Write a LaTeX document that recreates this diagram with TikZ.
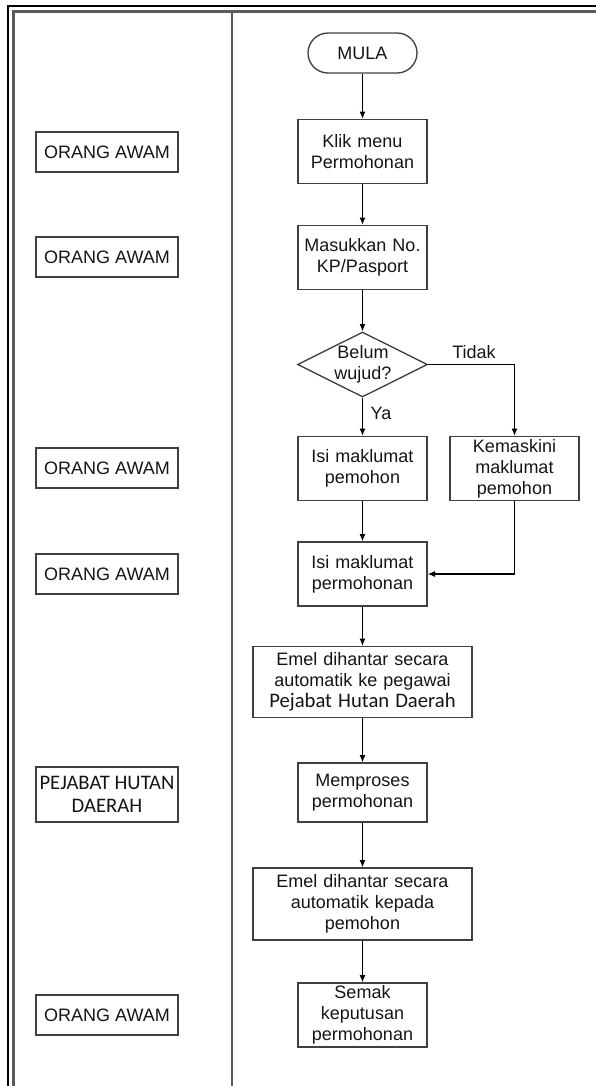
\documentclass[tikz,border=0pt]{standalone}
\usepackage{fontspec}
\setmainfont{Liberation Sans}
\newfontfamily\calib{Carlito}
\usetikzlibrary{shapes.geometric,arrows.meta}
\definecolor{bord}{HTML}{404040}
\definecolor{lane}{HTML}{5A5A5A}
\definecolor{txt}{HTML}{151515}
\tikzset{
  base/.style={draw=bord, line width=1pt, text=txt, align=center, inner sep=0pt,
    font=\fontsize{13.5}{15.75}\selectfont},
  flowbox/.style={base, minimum width=96.75pt, minimum height=48pt, text width=92pt},
  widebox/.style={base, minimum width=164.25pt, minimum height=53pt, text width=160pt},
  rolebox/.style={base, minimum width=106.5pt, minimum height=30pt},
  arr/.style={draw=black, line width=0.9pt, -{Latex[length=5.5pt,width=4.5pt]}},
  lbl/.style={text=txt, inner sep=0pt, font=\fontsize{13.5}{15.75}\selectfont}
}
\begin{document}
\begin{tikzpicture}[x=0.75pt,y=-0.75pt]
\useasboundingbox (0,0) rectangle (596,1086);
% frame and lanes
\draw[black, line width=1.3pt] (8,1086) -- (8,6) -- (596,6);
\draw[lane, line width=1.9pt] (13.5,1086) -- (13.5,11.5) -- (596,11.5);
\draw[lane, line width=1.6pt] (232,11.5) -- (232,1086);

% role boxes
\node[rolebox] (r1) at (107,152) {ORANG AWAM};
\node[rolebox] (r2) at (107,257) {ORANG AWAM};
\node[rolebox] (r3) at (107,468) {ORANG AWAM};
\node[rolebox] (r4) at (107,574) {ORANG AWAM};
\node[rolebox, minimum height=41.25pt, font=\calib\fontsize{15.5}{17.5}\selectfont] (r5) at (107,794.5) {PEJABAT HUTAN\\DAERAH};
\node[rolebox] (r6) at (107,1015) {ORANG AWAM};

% flow
\node[base, minimum width=81.75pt, minimum height=30pt, rounded corners=15pt] (mula) at (362.5,53) {MULA};
\node[flowbox] (klik) at (362.5,151.5) {Klik menu\\Permohonan};
\node[flowbox] (masuk) at (362.5,257.5) {Masukkan No.\\KP/Pasport};
\node[draw=bord, line width=1pt, diamond, minimum width=97.5pt, minimum height=48.75pt, inner sep=0pt] (dec) at (362.5,364.5) {};
\node[lbl, align=center] (dect) at (363,364) {Belum\\wujud?};
\node[flowbox] (isi1) at (362.5,468.5) {Isi maklumat\\pemohon};
\node[flowbox] (kemas) at (514.5,468.5) {Kemaskini\\maklumat\\pemohon};
\node[flowbox] (isi2) at (362.5,574) {Isi maklumat\\permohonan};
\node[widebox] (emel1) at (362.5,682) {Emel dihantar secara\\automatik ke pegawai\\{\calib\fontsize{15.5}{15.75}\selectfont Pejabat Hutan Daerah}};
\node[flowbox, minimum height=44.25pt] (proses) at (362.5,792.5) {Memproses\\permohonan};
\node[widebox, minimum height=54pt] (emel2) at (362.5,904) {Emel dihantar secara\\automatik kepada\\pemohon};
\node[flowbox] (semak) at (362.5,1015) {Semak\\keputusan\\permohonan};

\node[lbl] (tidak) at (474,352) {Tidak};
\node[lbl] (ya) at (381,413) {Ya};

% connectors
\draw[arr] (mula) -- (klik);
\draw[arr] (klik) -- (masuk);
\draw[arr] (masuk) -- (dec);
\draw[arr] (dec) -- (isi1);
\draw[arr] (dec.east) -| (kemas.north);
\draw[arr] (isi1) -- (isi2);
\coordinate (kturn) at (514.5,574);
\draw[arr] (kemas.south) -- (kturn) -- (isi2.east);
\draw[arr] (isi2) -- (emel1);
\draw[arr] (emel1) -- (proses);
\draw[arr] (proses) -- (emel2);
\draw[arr] (emel2) -- (semak);
\end{tikzpicture}
\end{document}
